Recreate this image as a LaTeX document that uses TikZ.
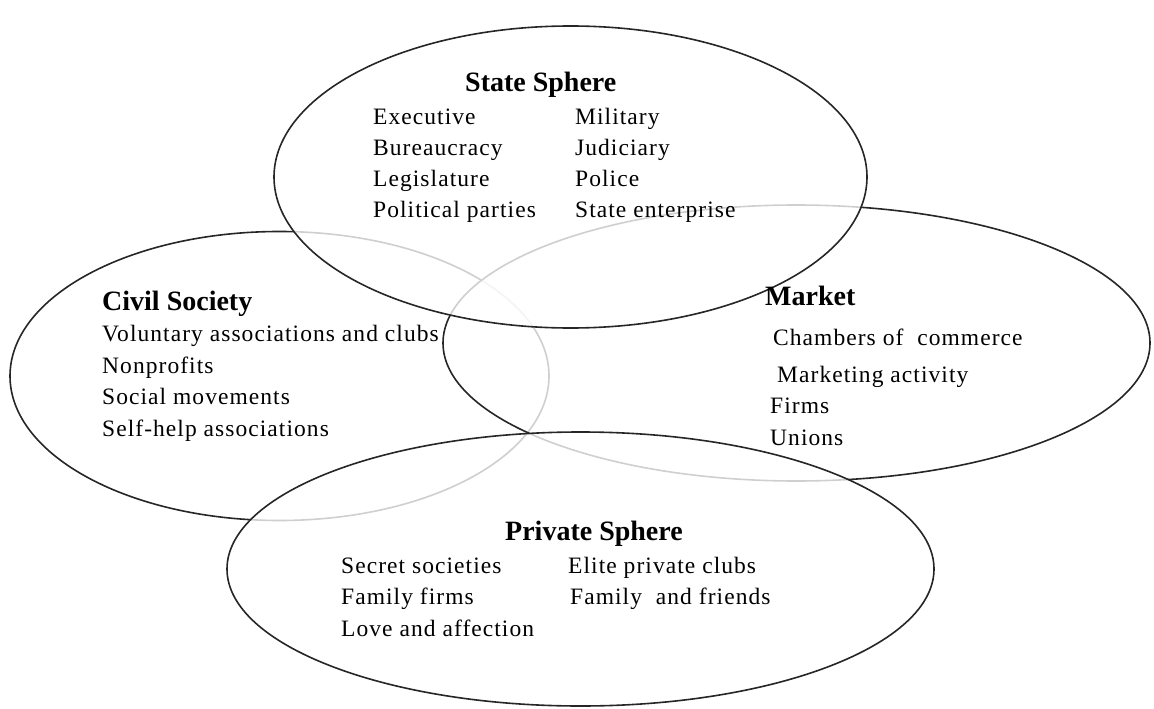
\documentclass[tikz,border=0pt]{standalone}
\usepackage{fontspec}
\setmainfont{Liberation Serif}
\newfontfamily\itemfont[LetterSpace=4.5]{Liberation Serif}
\begin{document}
\begin{tikzpicture}[x=1pt,y=-1pt,
  sphere/.style={draw=black!85,line width=1.6pt,fill=white,fill opacity=0.78},
  head/.style={anchor=base west,inner sep=0pt,font=\fontsize{28}{30}\selectfont\bfseries},
  item/.style={anchor=base west,inner sep=0pt,font=\fontsize{23.5}{26}\selectfont\itemfont}]
\useasboundingbox (0,0) rectangle (1154,709);
% spheres (drawing order: civil, market, state, private)
\path[sphere] (279.5,376) ellipse [x radius=269.5, y radius=144.5];
\path[sphere] (796.5,343) ellipse [x radius=353.5, y radius=138];
\path[sphere] (570.5,177) ellipse [x radius=296.5, y radius=151];
\path[sphere] (580.5,569) ellipse [x radius=353.5, y radius=137];
% State sphere
\node[head] (sth) at (465,92) {State Sphere};
\node[item] (s1) at (373,124) {Executive};
\node[item] (s2) at (373,155) {Bureaucracy};
\node[item] (s3) at (373,186) {Legislature};
\node[item] (s4) at (373,217) {Political parties};
\node[item] (s5) at (575,124) {Military};
\node[item] (s6) at (575,155) {Judiciary};
\node[item] (s7) at (575,186) {Police};
\node[item] (s8) at (575,217) {State enterprise};
% Civil society
\node[head] (cth) at (102,310) {Civil Society};
\node[item] (c1) at (102,341.5) {Voluntary associations and clubs};
\node[item] (c2) at (102,373) {Nonprofits};
\node[item] (c3) at (102,404.5) {Social movements};
\node[item] (c4) at (102,436) {Self-help associations};
% Market
\node[head] (mth) at (765,305) {Market};
\node[item] (m1) at (773,345) {Chambers of \ commerce};
\node[item] (m2) at (777,382) {Marketing activity};
\node[item] (m3) at (770,413) {Firms};
\node[item] (m4) at (770,445) {Unions};
% Private sphere
\node[head] (pth) at (505,540) {Private Sphere};
\node[item] (p1) at (341,573) {Secret societies};
\node[item] (p2) at (341,604) {Family firms};
\node[item] (p3) at (341,636) {Love and affection};
\node[item] (p4) at (568,573) {Elite private clubs};
\node[item] (p5) at (570,604) {Family \ and friends};
\end{tikzpicture}
\end{document}
